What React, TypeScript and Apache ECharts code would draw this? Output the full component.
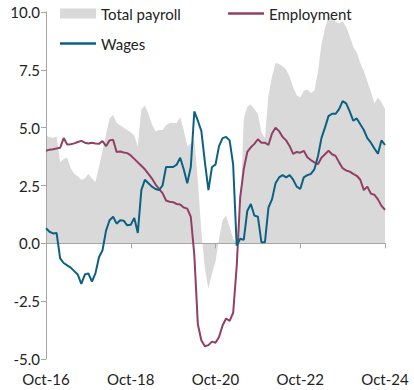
import { useEffect, useRef } from "react";
import * as echarts from "echarts";

const MONTHS = ["Jan", "Feb", "Mar", "Apr", "May", "Jun", "Jul", "Aug", "Sep", "Oct", "Nov", "Dec"];
const categories: string[] = [];
for (let i = 0; i < 97; i++) {
  const m = (9 + i) % 12;
  const y = 16 + Math.floor((9 + i) / 12);
  categories.push(`${MONTHS[m]}-${y}`);
}

const totalPayroll = [
  4.65, 4.6, 4.55, 4.62, 3.5, 3.65, 3.7, 3.25, 3.0, 2.9, 2.75, 2.8, 3.0, 2.8, 2.65, 3.3,
  4.0, 4.7, 5.4, 5.55, 5.2, 5.1, 5.0, 4.9, 4.8, 4.65, 4.2, 5.8, 5.95, 5.6, 5.15, 4.85,
  4.9, 4.9, 5.1, 5.2, 5.2, 5.2, 5.45, 4.9, 4.2, 4.3, 4.5, 2.7, 0.5, -1.1, -1.95, -1.3,
  -0.8, 0.2, 1.0, 1.2, 0.7, 0.2, -0.05, 1.2, 5.4, 5.9, 6.0, 5.8, 5.6, 4.8, 4.55, 6.4,
  7.2, 7.8, 7.75, 7.65, 7.5, 7.2, 6.75, 6.4, 6.3, 6.6, 6.65, 6.5, 6.6, 7.4, 8.6, 9.3,
  9.8, 9.75, 9.6, 9.5, 9.6, 9.35, 8.95, 8.5, 8.25, 7.8, 7.45, 7.0, 6.55, 6.05, 6.3, 6.1,
  5.8,
];

const employment = [
  4.0, 4.05, 4.07, 4.1, 4.13, 4.55, 4.27, 4.28, 4.32, 4.38, 4.43, 4.35, 4.32, 4.35, 4.32, 4.3,
  4.42, 4.2, 4.45, 4.48, 3.95, 3.97, 3.93, 3.9, 3.8, 3.65, 3.5, 3.35, 3.2, 3.0, 2.8, 2.55,
  2.35, 2.17, 1.85, 1.8, 1.78, 1.7, 1.68, 1.55, 1.5, 1.15, -0.5, -3.5, -4.2, -4.45, -4.4, -4.25,
  -4.3, -4.05, -3.55, -3.25, -3.35, -3.0, -1.0, 2.0, 3.2, 3.95, 4.15, 4.3, 4.5, 4.35, 4.35, 4.25,
  4.75, 5.0, 4.85, 4.6, 4.45, 4.2, 3.87, 3.95, 3.92, 4.0, 3.72, 3.6, 3.5, 3.42, 3.7, 3.85,
  4.0, 3.85, 3.78, 3.5, 3.25, 3.15, 3.1, 3.0, 2.92, 2.75, 2.3, 2.45, 2.15, 2.1, 1.9, 1.62,
  1.45,
];

const wages = [
  0.65, 0.5, 0.43, 0.45, -0.65, -0.85, -0.95, -1.05, -1.2, -1.35, -1.75, -1.35, -1.3, -1.65, -1.3, -0.6,
  -0.3, 0.55, 1.0, 1.15, 0.85, 1.0, 0.98, 0.78, 0.8, 1.1, 0.45, 2.3, 2.75, 2.6, 2.45, 2.35,
  2.3, 2.5, 3.3, 3.3, 3.3, 3.4, 3.7, 3.2, 2.6, 3.3, 5.7, 5.3, 4.85, 3.5, 2.3, 3.3,
  3.4, 4.2, 4.55, 4.6, 4.45, 3.4, -0.1, 0.2, 0.15, 1.4, 1.7, 1.2, 1.15, 0.05, 0.05, 1.55,
  1.9, 2.6, 2.85, 2.95, 2.85, 2.95, 2.75, 2.45, 2.35, 2.85, 2.95, 3.0, 3.2, 3.75, 4.55, 5.0,
  5.5, 5.6, 5.6, 5.8, 6.15, 6.05, 5.7, 5.3, 5.4, 5.15, 4.9, 4.55, 4.35, 4.1, 3.87, 4.45,
  4.25,
];

const FONT = "Lato, 'Noto Sans', sans-serif";
const AXIS_COLOR = "#a6a6a6";
const TEXT_COLOR = "#222";
const GREY = "#d9d9d9";
const MAROON = "#923f66";
const TEAL = "#0c6183";

export default function App() {
  const ref = useRef<HTMLDivElement>(null);

  useEffect(() => {
    if (!ref.current) return;
    const chart = echarts.init(ref.current, undefined, { renderer: "svg" });
    const legendText = { fontSize: 15, color: TEXT_COLOR, fontFamily: FONT };
    chart.setOption({
      animation: false,
      grid: { left: 46, right: 29, top: 12, bottom: 31, containLabel: false },
      legend: [
        {
          left: 60, top: 6, padding: 0, itemWidth: 36, itemHeight: 10,
          data: [{ name: "Total payroll", icon: "rect" }], textStyle: legendText,
        },
        {
          left: 228, top: 6, padding: 0, itemWidth: 36, itemHeight: 2.5,
          data: [{ name: "Employment", icon: "rect" }], textStyle: legendText,
        },
        {
          left: 60, top: 36, padding: 0, itemWidth: 36, itemHeight: 2.5,
          data: [{ name: "Wages", icon: "rect" }], textStyle: legendText,
        },
      ],
      xAxis: [
        {
          type: "category",
          data: categories,
          boundaryGap: false,
          position: "bottom",
          axisLine: { show: false, onZero: false },
          axisTick: { show: false },
          splitLine: { show: false },
          axisLabel: {
            interval: 23, margin: 12, fontSize: 15, color: TEXT_COLOR, fontFamily: FONT,
          },
        },
        {
          type: "category",
          data: categories,
          boundaryGap: false,
          position: "bottom",
          z: 1,
          axisLine: { show: true, onZero: true, lineStyle: { color: AXIS_COLOR, width: 1 } },
          axisTick: { show: true, interval: 23, length: 5, lineStyle: { color: AXIS_COLOR } },
          axisLabel: { show: false },
          splitLine: { show: false },
        },
      ],
      yAxis: {
        type: "value",
        min: -5,
        max: 10,
        interval: 2.5,
        axisLine: { show: true, lineStyle: { color: AXIS_COLOR, width: 1 } },
        axisTick: { show: true, length: 5, lineStyle: { color: AXIS_COLOR } },
        splitLine: { show: false },
        axisLabel: {
          formatter: (v: number) => v.toFixed(1),
          margin: 6, fontSize: 15, color: TEXT_COLOR, fontFamily: FONT,
        },
      },
      series: [
        {
          name: "Total payroll",
          type: "line",
          data: totalPayroll,
          symbol: "none",
          z: 0,
          color: GREY,
          itemStyle: { color: GREY },
          lineStyle: { width: 0, color: GREY },
          areaStyle: { color: GREY, opacity: 1 },
        },
        {
          name: "Employment",
          type: "line",
          data: employment,
          symbol: "none",
          z: 3,
          color: MAROON,
          itemStyle: { color: MAROON },
          lineStyle: { width: 2, color: MAROON },
        },
        {
          name: "Wages",
          type: "line",
          data: wages,
          symbol: "none",
          z: 4,
          color: TEAL,
          itemStyle: { color: TEAL },
          lineStyle: { width: 2, color: TEAL },
        },
      ],
    });
    return () => chart.dispose();
  }, []);

  return (
    <div
      ref={ref}
      style={{ position: "absolute", left: 0, top: 0, width: 414, height: 390 }}
    />
  );
}
